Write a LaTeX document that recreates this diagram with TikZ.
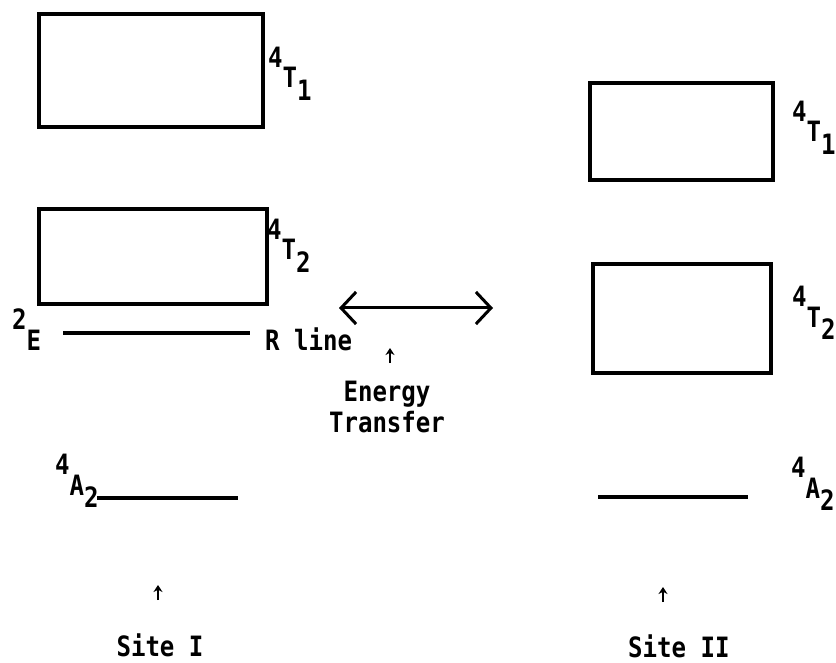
\documentclass[tikz,border=0pt]{standalone}
\usepackage{fontspec}
\newfontfamily\typefont[FakeStretch=0.86]{DejaVu Sans Mono Bold}
\usetikzlibrary{arrows.meta}

% term symbol: raised multiplicity, letter, lowered index
\newcommand{\term}[3]{\raisebox{0.72em}{#1}#2\raisebox{-0.45em}{#3}}

\begin{document}
\begin{tikzpicture}[x=1pt, y=-1pt,
  band/.style={rectangle, draw, line width=3.4pt, inner sep=0pt},
  level/.style={line width=3.2pt},
  lbl/.style={font=\typefont\fontsize{28}{31}\selectfont, inner sep=0pt,
    anchor=base west},
  xfer/.style={{Straight Barb[length=15pt, width=32pt]}-{Straight Barb[length=15pt, width=32pt]},
    line width=3pt},
  uparr/.style={-{Stealth[length=7pt, width=9pt]}, line width=2.2pt},
]
\useasboundingbox (0,0) rectangle (836,663);

% Site I
\node[band, minimum width=224pt, minimum height=113pt] (t1a) at (151,70.5) {};
\node[band, minimum width=228pt, minimum height=95pt] (t2a) at (153,256.5) {};
\node[lbl] (lt1a) at (268,88) {\term{4}{T}{1}};
\node[lbl] (lt2a) at (267,260) {\term{4}{T}{2}};
\draw[level] (63,333) -- (250,333);
\node[lbl] (le) at (12,350) {\term{2}{E}{}};
\node[lbl] (rl) at (265,350) {R line};
\draw[level] (97,498) -- (238,498);
\node[lbl] (la2a) at (55,495) {\term{4}{A}{2}};

% Site II
\node[band, minimum width=183pt, minimum height=97pt] (t1b) at (681.5,131.5) {};
\node[band, minimum width=178pt, minimum height=109pt] (t2b) at (682,318.5) {};
\node[lbl] (lt1b) at (792,142) {\term{4}{T}{1}};
\node[lbl] (lt2b) at (792,327) {\term{4}{T}{2}};
\draw[level] (598,497) -- (748,497);
\node[lbl] (la2b) at (791,498) {\term{4}{A}{2}};

% Energy transfer
\coordinate (xl) at (339,308);
\coordinate (xr) at (493,308);
\draw[xfer] (xl) -- (xr);
\node[lbl, anchor=north, align=center] (et) at (387,381) {Energy\\Transfer};

% site labels
\node[lbl, anchor=base] (s1) at (160,656) {Site I};
\node[lbl] (s2) at (628,657) {Site II};

\foreach \x/\y in {390/363, 158/600, 663/602}
  \draw[uparr] (\x,\y) -- ++(0,-15);
\end{tikzpicture}
\end{document}
